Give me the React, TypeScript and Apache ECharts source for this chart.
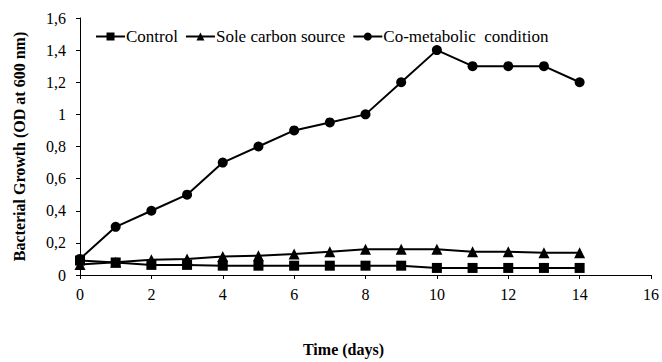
import React, { useEffect, useRef } from "react";
import * as echarts from "echarts";

const days = [0, 1, 2, 3, 4, 5, 6, 7, 8, 9, 10, 11, 12, 13, 14];
const controlValues = [0.09, 0.078, 0.063, 0.063, 0.058, 0.058, 0.058, 0.058, 0.058, 0.058, 0.044, 0.044, 0.044, 0.044, 0.044];
const soleCarbonValues = [0.065, 0.08, 0.095, 0.1, 0.115, 0.12, 0.13, 0.145, 0.16, 0.16, 0.16, 0.145, 0.145, 0.138, 0.138];
const coMetabolicValues = [0.1, 0.3, 0.4, 0.5, 0.7, 0.8, 0.9, 0.95, 1.0, 1.2, 1.4, 1.3, 1.3, 1.3, 1.2];
const seriesNames = ["Control", "Sole carbon source", "Co-metabolic  condition"];
const xTitle = "Time (days)";
const yTitle = "Bacterial Growth (OD at 600 nm)";

const FONT = "Liberation Serif";

export default function App() {
  const ref = useRef<HTMLDivElement>(null);
  useEffect(() => {
    if (!ref.current) return;
    const chart = echarts.init(ref.current, undefined, { renderer: "svg" });
    const pair = (vals: number[]) => days.map((d, i) => [d, vals[i]]);
    const common = {
      type: "line",
      lineStyle: { color: "#000", width: 2 },
      itemStyle: { color: "#000" },
      showAllSymbol: true,
      z: 2,
    };
    chart.setOption({
      animation: false,
      backgroundColor: "#fff",
      textStyle: { fontFamily: FONT },
      grid: { left: 80, right: 10, top: 18, bottom: 81, containLabel: false },
      legend: {
        left: 90,
        top: 23,
        itemWidth: 29,
        itemHeight: 10,
        itemGap: 7,
        textStyle: { fontFamily: FONT, fontSize: 17, color: "#000", padding: [0, 0, 0, -4] },
        data: seriesNames,
      },
      xAxis: {
        type: "value",
        min: 0,
        max: 16,
        interval: 2,
        name: xTitle,
        nameLocation: "middle",
        nameGap: 66,
        nameTextStyle: { fontFamily: FONT, fontSize: 16, fontWeight: "bold", color: "#000", padding: [0, 44, 0, 0] },
        axisLine: { show: true, lineStyle: { color: "#000", width: 1 } },
        axisTick: { show: true, inside: false, length: 4, lineStyle: { color: "#000" } },
        axisLabel: { fontFamily: FONT, fontSize: 16, color: "#000", margin: 11 },
        splitLine: { show: false },
      },
      yAxis: {
        type: "value",
        min: 0,
        max: 1.6,
        interval: 0.2,
        name: yTitle,
        nameLocation: "middle",
        nameGap: 53,
        nameTextStyle: { fontFamily: FONT, fontSize: 16, fontWeight: "bold", color: "#000" },
        axisLine: { show: true, lineStyle: { color: "#000", width: 1 } },
        axisTick: { show: true, inside: false, length: 4, lineStyle: { color: "#000" } },
        axisLabel: {
          fontFamily: FONT,
          fontSize: 16,
          color: "#000",
          margin: 14,
          formatter: (v: number) => String(Math.round(v * 10) / 10).replace(".", ","),
        },
        splitLine: { show: false },
      },
      series: [
        { ...common, name: seriesNames[0], symbol: "rect", symbolSize: 10, data: pair(controlValues) },
        { ...common, name: seriesNames[1], symbol: "triangle", symbolSize: 11, data: pair(soleCarbonValues) },
        { ...common, name: seriesNames[2], symbol: "circle", symbolSize: 10, data: pair(coMetabolicValues) },
      ],
    });
    return () => chart.dispose();
  }, []);
  return <div ref={ref} style={{ width: 662, height: 362, position: "absolute", left: 0, top: 0 }} />;
}
